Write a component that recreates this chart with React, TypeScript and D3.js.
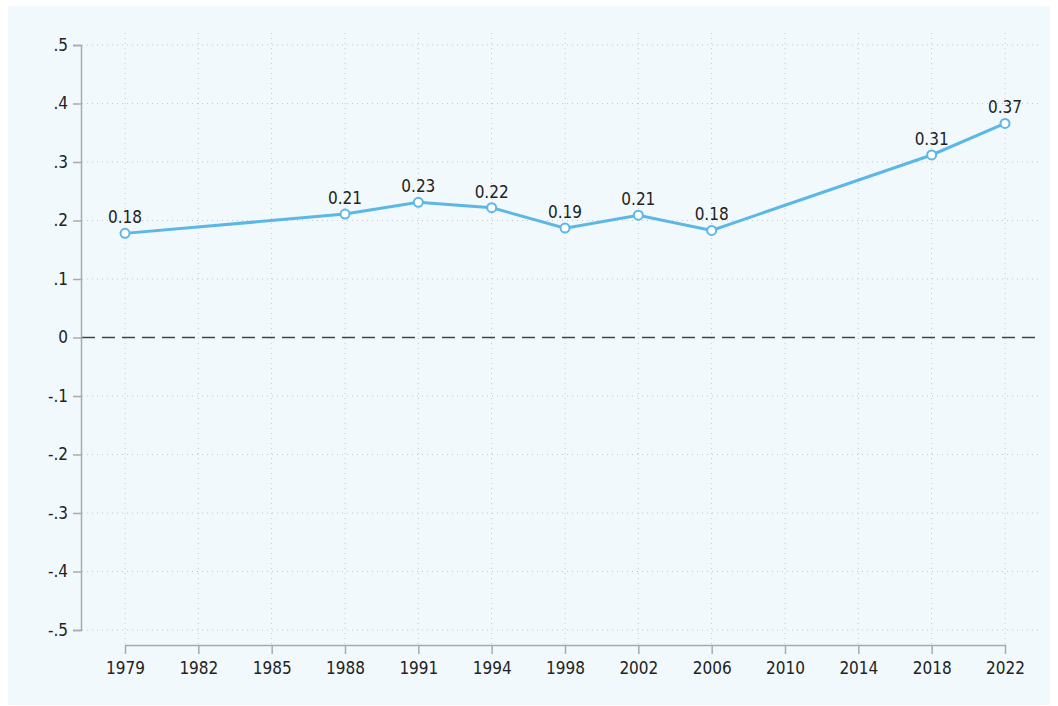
import { useRef, useEffect } from "react";
import * as d3 from "d3";

const years = ["1979", "1982", "1985", "1988", "1991", "1994", "1998", "2002", "2006", "2010", "2014", "2018", "2022"];
const obsYears = ["1979", "1988", "1991", "1994", "1998", "2002", "2006", "2018", "2022"];
const obsValues = [0.178, 0.211, 0.231, 0.222, 0.187, 0.209, 0.183, 0.312, 0.366];
const yTicks = [-0.5, -0.4, -0.3, -0.2, -0.1, 0, 0.1, 0.2, 0.3, 0.4, 0.5];

const W = 1058;
const H = 706;
const FONT = "'Liberation Sans Narrow', 'DejaVu Sans Condensed', 'Roboto', sans-serif";

export default function App() {
  const svgRef = useRef<SVGSVGElement>(null);

  useEffect(() => {
    if (!svgRef.current) return;
    const svg = d3.select(svgRef.current);
    svg.selectAll("*").remove();

    svg.append("rect").attr("x", 8).attr("y", 6).attr("width", 1042).attr("height", 699).attr("fill", "#f1f9fd");

    const x = d3.scalePoint<string>().domain(years).range([125, 1005]);
    const y = d3.scaleLinear().domain([-0.5, 0.5]).range([630, 45]);

    // grid
    svg.append("g")
      .selectAll("line")
      .data(yTicks.filter((t) => t !== 0))
      .join("line")
      .attr("x1", 82).attr("x2", 1042)
      .attr("y1", (d) => y(d)).attr("y2", (d) => y(d))
      .attr("stroke", "#c4c8cb").attr("stroke-width", 1).attr("stroke-dasharray", "1,4");
    svg.append("g")
      .selectAll("line")
      .data(years)
      .join("line")
      .attr("x1", (d) => x(d)!).attr("x2", (d) => x(d)!)
      .attr("y1", 33).attr("y2", 645)
      .attr("stroke", "#c4c8cb").attr("stroke-width", 1).attr("stroke-dasharray", "1,4");

    // zero line
    svg.append("line")
      .attr("x1", 82).attr("x2", 1042).attr("y1", y(0)).attr("y2", y(0))
      .attr("stroke", "#444").attr("stroke-width", 1.5).attr("stroke-dasharray", "13,7");

    // y axis
    const yAxis = svg.append("g").attr("transform", "translate(81,0)")
      .call(d3.axisLeft(y).tickValues(yTicks).tickSize(8).tickPadding(5)
        .tickFormat((d) => {
          const v = +d;
          if (v === 0) return "0";
          const s = Math.abs(v).toFixed(1).replace("0.", ".");
          return v < 0 ? "-" + s : s;
        }));
    yAxis.select(".domain").attr("stroke", "#aaa").attr("stroke-width", 1.5);
    yAxis.selectAll(".tick line").attr("stroke", "#aaa").attr("stroke-width", 1.5);
    yAxis.selectAll("text").attr("font-family", FONT).attr("font-size", 17).attr("fill", "#222");

    // x axis
    const xAxis = svg.append("g").attr("transform", "translate(0,645)")
      .call(d3.axisBottom(x).tickSize(9).tickSizeOuter(0).tickPadding(8));
    xAxis.select(".domain").attr("stroke", "#aaa").attr("stroke-width", 1.5);
    xAxis.selectAll(".tick line").attr("stroke", "#aaa").attr("stroke-width", 1.5);
    xAxis.selectAll("text").attr("font-family", FONT).attr("font-size", 17).attr("fill", "#222");

    const pts = obsYears.map((yr, i) => ({ yr, v: obsValues[i] }));
    const line = d3.line<{ yr: string; v: number }>().x((d) => x(d.yr)!).y((d) => y(d.v));

    svg.append("path").datum(pts).attr("d", line)
      .attr("fill", "none").attr("stroke", "#5bb7e6").attr("stroke-width", 3);

    svg.append("g").selectAll("circle").data(pts).join("circle")
      .attr("cx", (d) => x(d.yr)!).attr("cy", (d) => y(d.v)).attr("r", 4.5)
      .attr("fill", "#fff").attr("stroke", "#5bb7e6").attr("stroke-width", 2);

    svg.append("g").selectAll("text").data(pts).join("text")
      .attr("x", (d) => x(d.yr)!).attr("y", (d) => y(d.v) - 10)
      .attr("text-anchor", "middle")
      .attr("font-family", FONT).attr("font-size", 17).attr("fill", "#222")
      .text((d) => d3.format(".2f")(d.v));
  }, []);

  return <svg ref={svgRef} width={W} height={H} style={{ position: "absolute", left: 0, top: 0 }} />;
}
